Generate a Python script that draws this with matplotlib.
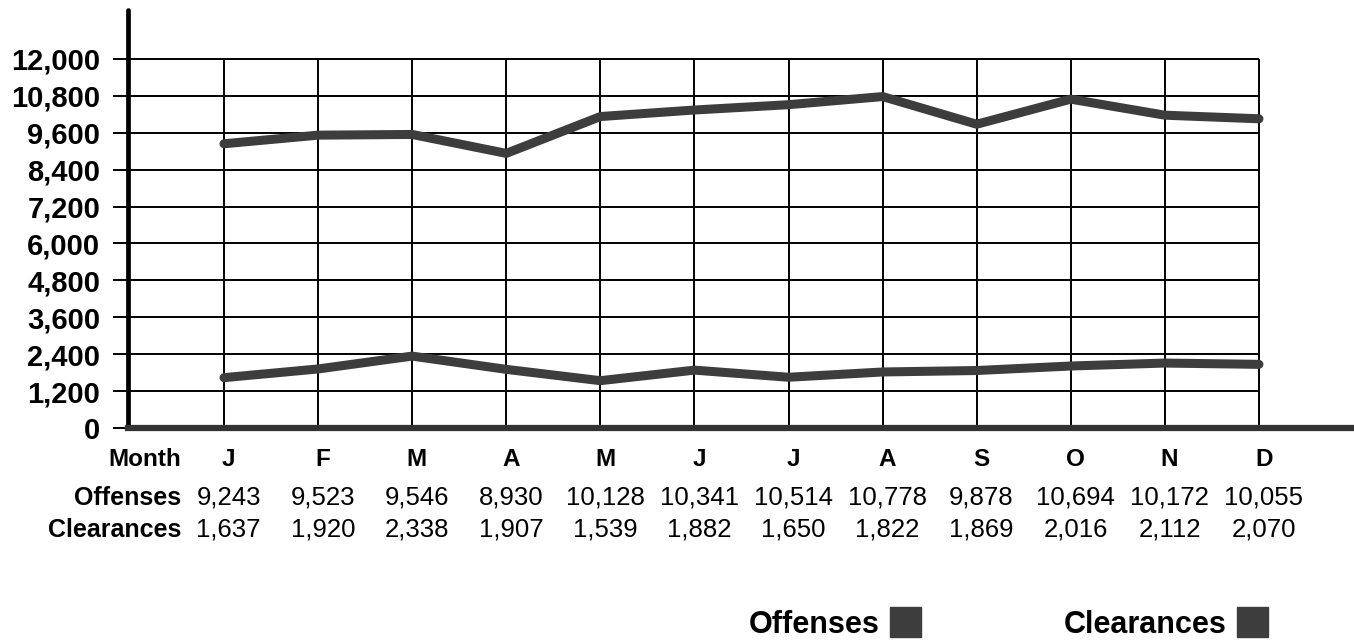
#!/usr/bin/env python
# -*- coding: utf8 -*-
import matplotlib
matplotlib.use('Agg')
import matplotlib.pyplot as plt
from matplotlib.patches import Rectangle
from matplotlib.transforms import blended_transform_factory

months = ['J', 'F', 'M', 'A', 'M', 'J', 'J', 'A', 'S', 'O', 'N', 'D']
offenses = [9243, 9523, 9546, 8930, 10128, 10341, 10514, 10778, 9878, 10694, 10172, 10055]
clearances = [1637, 1920, 2338, 1907, 1539, 1882, 1650, 1822, 1869, 2016, 2112, 2070]
yticks = [0, 1200, 2400, 3600, 4800, 6000, 7200, 8400, 9600, 10800, 12000]

plt.rcParams['font.family'] = ['Liberation Sans', 'DejaVu Sans']

W, H = 1354, 641
fig = plt.figure(figsize=(W / 100, H / 100), dpi=100)
ax = fig.add_axes([128 / W, 1 - 428 / H, 1 - 128 / W, 418 / H])

xs = list(range(len(months)))
ax.set_xlim(-1.02, 12.01)
ax.set_ylim(0, 13593)

# grid
ax.hlines(yticks[1:], -1.02, 11, color='black', lw=1.4, zorder=1)
ax.vlines(xs, 0, 12000, color='black', lw=1.4, zorder=1)

# lines
line_col = '#3d3d3d'
ax.plot(xs, offenses, color=line_col, lw=6.5, solid_capstyle='round', zorder=3)
ax.plot(xs, clearances, color=line_col, lw=6.5, solid_capstyle='round', zorder=3)

# axes
for s in ['top', 'right']:
    ax.spines[s].set_visible(False)
ax.spines['left'].set_linewidth(3.4)
ax.spines['left'].set_capstyle('round')
ax.spines['bottom'].set_linewidth(4.5)
ax.spines['bottom'].set_color('#333333')
ax.set_xticks([])
ax.set_yticks(yticks)
ax.set_yticklabels(['{:,}'.format(v) for v in yticks], fontsize=21, fontweight='bold')
ax.tick_params(axis='y', length=11, width=1.4, pad=9)

# table under the chart
tr = blended_transform_factory(ax.transData, fig.transFigure)
rows = [('Month', months, 1 - 466 / H, 'bold', 17.5, 17.5),
        ('Offenses', ['{:,}'.format(v) for v in offenses], 1 - 505 / H, 'normal', 18, 18.5),
        ('Clearances', ['{:,}'.format(v) for v in clearances], 1 - 537 / H, 'normal', 18, 18.5)]
for name, vals, y, wt, fs, fs_val in rows:
    fig.text(181 / W, y, name, ha='right', va='baseline', fontsize=fs, fontweight='bold')
    for x, v in zip(xs, vals):
        ax.text(x + 0.05, y, v, transform=tr, ha='center', va='baseline',
                fontsize=fs_val, fontweight=wt)

# legend
for name, xr in [('Offenses', 880), ('Clearances', 1227)]:
    fig.text(xr / W, 1 - 633 / H, name, ha='right', va='baseline', fontsize=22, fontweight='bold')
    fig.add_artist(Rectangle(((xr + 10) / W, 1 - 637 / H), 31 / W, 30 / H,
                             transform=fig.transFigure, color=line_col))

fig.savefig('out.png', dpi=100)
